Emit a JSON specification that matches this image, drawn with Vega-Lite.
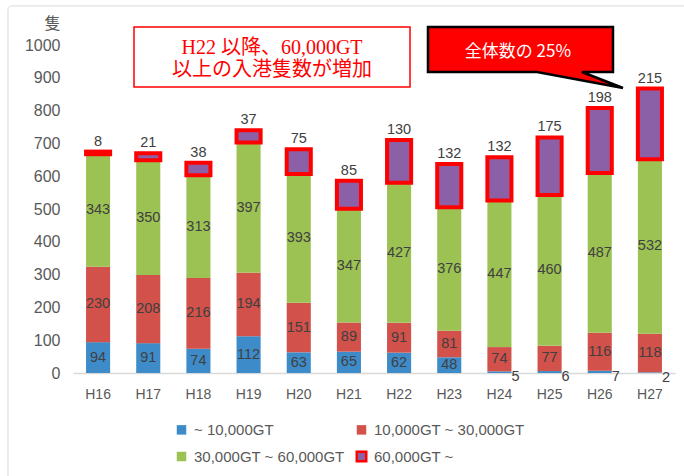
{
  "$schema": "https://vega.github.io/schema/vega-lite/v6.json",
  "width": 602,
  "height": 328,
  "autosize": {"type": "none"},
  "padding": {"left": 73, "top": 45, "right": 9, "bottom": 103},
  "background": "white",
  "config": {"view": {"stroke": null}, "font": "Liberation Sans",
             "axisY": {"labelOverlap": false, "tickCount": 10, "values": [0, 100, 200, 300, 400, 500, 600, 700, 800, 900, 1000], "format": "d", "domain": false, "ticks": false, "labelFontSize": 16, "labelColor": "#595959", "labelPadding": 13, "gridColor": "#D9D9D9", "titleAngle": 0, "titleX": -21, "titleY": -22, "titleAlign": "center", "titleBaseline": "middle", "titleFont": "Noto Sans CJK JP", "titleFontSize": 16, "titleFontWeight": "normal", "titleColor": "#595959"}},
  "data": {"values": [
    {"year": "H16", "cat": "~ 10,000GT", "k": 1, "n": 94},
    {"year": "H16", "cat": "10,000GT ~ 30,000GT", "k": 2, "n": 230},
    {"year": "H16", "cat": "30,000GT ~ 60,000GT", "k": 3, "n": 343},
    {"year": "H16", "cat": "60,000GT ~", "k": 4, "n": 8},
    {"year": "H17", "cat": "~ 10,000GT", "k": 1, "n": 91},
    {"year": "H17", "cat": "10,000GT ~ 30,000GT", "k": 2, "n": 208},
    {"year": "H17", "cat": "30,000GT ~ 60,000GT", "k": 3, "n": 350},
    {"year": "H17", "cat": "60,000GT ~", "k": 4, "n": 21},
    {"year": "H18", "cat": "~ 10,000GT", "k": 1, "n": 74},
    {"year": "H18", "cat": "10,000GT ~ 30,000GT", "k": 2, "n": 216},
    {"year": "H18", "cat": "30,000GT ~ 60,000GT", "k": 3, "n": 313},
    {"year": "H18", "cat": "60,000GT ~", "k": 4, "n": 38},
    {"year": "H19", "cat": "~ 10,000GT", "k": 1, "n": 112},
    {"year": "H19", "cat": "10,000GT ~ 30,000GT", "k": 2, "n": 194},
    {"year": "H19", "cat": "30,000GT ~ 60,000GT", "k": 3, "n": 397},
    {"year": "H19", "cat": "60,000GT ~", "k": 4, "n": 37},
    {"year": "H20", "cat": "~ 10,000GT", "k": 1, "n": 63},
    {"year": "H20", "cat": "10,000GT ~ 30,000GT", "k": 2, "n": 151},
    {"year": "H20", "cat": "30,000GT ~ 60,000GT", "k": 3, "n": 393},
    {"year": "H20", "cat": "60,000GT ~", "k": 4, "n": 75},
    {"year": "H21", "cat": "~ 10,000GT", "k": 1, "n": 65},
    {"year": "H21", "cat": "10,000GT ~ 30,000GT", "k": 2, "n": 89},
    {"year": "H21", "cat": "30,000GT ~ 60,000GT", "k": 3, "n": 347},
    {"year": "H21", "cat": "60,000GT ~", "k": 4, "n": 85},
    {"year": "H22", "cat": "~ 10,000GT", "k": 1, "n": 62},
    {"year": "H22", "cat": "10,000GT ~ 30,000GT", "k": 2, "n": 91},
    {"year": "H22", "cat": "30,000GT ~ 60,000GT", "k": 3, "n": 427},
    {"year": "H22", "cat": "60,000GT ~", "k": 4, "n": 130},
    {"year": "H23", "cat": "~ 10,000GT", "k": 1, "n": 48},
    {"year": "H23", "cat": "10,000GT ~ 30,000GT", "k": 2, "n": 81},
    {"year": "H23", "cat": "30,000GT ~ 60,000GT", "k": 3, "n": 376},
    {"year": "H23", "cat": "60,000GT ~", "k": 4, "n": 132},
    {"year": "H24", "cat": "~ 10,000GT", "k": 1, "n": 5},
    {"year": "H24", "cat": "10,000GT ~ 30,000GT", "k": 2, "n": 74},
    {"year": "H24", "cat": "30,000GT ~ 60,000GT", "k": 3, "n": 447},
    {"year": "H24", "cat": "60,000GT ~", "k": 4, "n": 132},
    {"year": "H25", "cat": "~ 10,000GT", "k": 1, "n": 6},
    {"year": "H25", "cat": "10,000GT ~ 30,000GT", "k": 2, "n": 77},
    {"year": "H25", "cat": "30,000GT ~ 60,000GT", "k": 3, "n": 460},
    {"year": "H25", "cat": "60,000GT ~", "k": 4, "n": 175},
    {"year": "H26", "cat": "~ 10,000GT", "k": 1, "n": 7},
    {"year": "H26", "cat": "10,000GT ~ 30,000GT", "k": 2, "n": 116},
    {"year": "H26", "cat": "30,000GT ~ 60,000GT", "k": 3, "n": 487},
    {"year": "H26", "cat": "60,000GT ~", "k": 4, "n": 198},
    {"year": "H27", "cat": "~ 10,000GT", "k": 1, "n": 2},
    {"year": "H27", "cat": "10,000GT ~ 30,000GT", "k": 2, "n": 118},
    {"year": "H27", "cat": "30,000GT ~ 60,000GT", "k": 3, "n": 532},
    {"year": "H27", "cat": "60,000GT ~", "k": 4, "n": 215}
  ]},
  "resolve": {"scale": {"x": "independent", "y": "independent"}},
  "layer": [
    {
      "data": {"values": [{}]},
      "mark": {"type": "rect", "fill": null, "stroke": "#D9D9D9", "strokeWidth": 1, "cornerRadius": 4},
      "encoding": {
        "x": {"datum": -1.296, "type": "quantitative", "scale": {"domain": [0, 12], "nice": false, "zero": false}, "axis": null},
        "x2": {"datum": 13},
        "y": {"datum": 1119, "type": "quantitative", "scale": {"domain": [0, 1000], "nice": false}, "axis": null},
        "y2": {"datum": -500}
      }
    },
    {
      "transform": [
        {"stack": "n", "groupby": ["year"], "sort": [{"field": "k", "order": "ascending"}], "as": ["y0", "y1"]},
        {"calculate": "(datum.y0 + datum.y1) / 2", "as": "mid"}
      ],
      "encoding": {
        "x": {"field": "year", "type": "nominal", "sort": null,
              "scale": {"paddingInner": 0.52, "paddingOuter": 0.26},
              "axis": {"title": null, "labelFontSize": 14, "labelColor": "#595959", "labelPadding": 14, "ticks": false, "labelAngle": 0, "domainColor": "#D9D9D9", "domainWidth": 1.5}}
      },
      "layer": [
        {
          "mark": {"type": "bar", "strokeWidth": 4},
          "encoding": {
            "y": {"field": "y0", "type": "quantitative",
                  "scale": {"domain": [0, 1000], "nice": false},
                  "axis": {"title": "隻"}},
            "y2": {"field": "y1"},
            "fill": {"field": "cat", "type": "nominal",
                     "scale": {"domain": ["~ 10,000GT", "10,000GT ~ 30,000GT", "30,000GT ~ 60,000GT", "60,000GT ~"], "range": ["#3D8BC8", "#D2514A", "#9DC254", "#8C60A6"]},
                     "legend": {"title": null, "orient": "none", "legendX": 101, "legendY": 377, "direction": "horizontal", "columns": 2, "gridAlign": "all", "columnPadding": 6, "rowPadding": 6, "symbolType": "square", "symbolSize": 90, "symbolStrokeWidth": 2.5, "labelFontSize": 15, "labelColor": "#595959", "labelOffset": 5, "labelLimit": 300}},
            "stroke": {"field": "cat", "type": "nominal",
                       "scale": {"domain": ["~ 10,000GT", "10,000GT ~ 30,000GT", "30,000GT ~ 60,000GT", "60,000GT ~"], "range": ["transparent", "transparent", "transparent", "#FF0000"]},
                       "legend": {"title": null, "orient": "none", "legendX": 101, "legendY": 377, "direction": "horizontal", "columns": 2, "gridAlign": "all", "columnPadding": 6, "rowPadding": 6, "symbolType": "square", "symbolSize": 90, "symbolStrokeWidth": 2.5, "labelFontSize": 15, "labelColor": "#595959", "labelOffset": 5, "labelLimit": 300}},
            "order": {"field": "k"}
          }
        },
        {
          "transform": [{"filter": "datum.k < 4 && datum.n >= 10"}],
          "mark": {"type": "text", "fontSize": 14.5, "color": "#404040", "baseline": "middle", "align": "center"},
          "encoding": {
            "y": {"field": "mid", "type": "quantitative", "axis": {"title": "隻"}},
            "text": {"field": "n", "type": "quantitative"}
          }
        },
        {
          "transform": [{"filter": "datum.k === 1 && datum.n < 10"}],
          "mark": {"type": "text", "fontSize": 14.5, "color": "#404040", "baseline": "middle", "align": "center", "dx": 16, "dy": 5},
          "encoding": {
            "y": {"field": "mid", "type": "quantitative", "axis": {"title": "隻"}},
            "text": {"field": "n", "type": "quantitative"}
          }
        },
        {
          "transform": [{"filter": "datum.k === 4"}],
          "mark": {"type": "text", "fontSize": 14.5, "color": "#404040", "baseline": "bottom", "align": "center", "dy": -3},
          "encoding": {
            "y": {"field": "y1", "type": "quantitative", "axis": {"title": "隻"}},
            "text": {"field": "n", "type": "quantitative"}
          }
        }
      ]
    },
    {
      "data": {"values": [{}]},
      "mark": {"type": "rect", "fill": "white", "stroke": "#FF0000", "strokeWidth": 1.5},
      "encoding": {
        "x": {"datum": 1.216, "type": "quantitative", "scale": {"domain": [0, 12], "nice": false, "zero": false}, "axis": null},
        "x2": {"datum": 6.718},
        "y": {"datum": 1054.9, "type": "quantitative", "scale": {"domain": [0, 1000], "nice": false}, "axis": null},
        "y2": {"datum": 871.9}
      }
    },
    {
      "data": {"values": [{}]},
      "mark": {"type": "text", "text": "H22 以降、60,000GT", "font": "Liberation Serif, Noto Sans CJK JP", "fontSize": 20, "color": "#FF0000", "align": "center", "baseline": "middle"},
      "encoding": {
        "x": {"datum": 3.967, "type": "quantitative", "scale": {"domain": [0, 12], "nice": false, "zero": false}, "axis": null},
        "y": {"datum": 991, "type": "quantitative", "scale": {"domain": [0, 1000], "nice": false}, "axis": null}
      }
    },
    {
      "data": {"values": [{}]},
      "mark": {"type": "text", "text": "以上の入港隻数が増加", "font": "Liberation Serif, Noto Sans CJK JP", "fontSize": 20, "color": "#FF0000", "align": "center", "baseline": "middle"},
      "encoding": {
        "x": {"datum": 3.967, "type": "quantitative", "scale": {"domain": [0, 12], "nice": false, "zero": false}, "axis": null},
        "y": {"datum": 924, "type": "quantitative", "scale": {"domain": [0, 1000], "nice": false}, "axis": null}
      }
    },
    {
      "data": {"values": [{}]},
      "mark": {"type": "point", "shape": "M -0.925 -0.225 L 0.925 -0.225 L 0.925 0.225 L 0.615 0.225 L 1.025 0.385 L 0.165 0.225 L -0.925 0.225 Z", "size": 40000, "filled": true, "fill": "#FF0000", "stroke": "#000000", "strokeWidth": 2.5, "opacity": 1, "fillOpacity": 1, "strokeOpacity": 1},
      "encoding": {
        "x": {"datum": 8.92, "type": "quantitative", "scale": {"domain": [0, 12], "nice": false, "zero": false}, "axis": null},
        "y": {"datum": 986.3, "type": "quantitative", "scale": {"domain": [0, 1000], "nice": false}, "axis": null}
      }
    },
    {
      "data": {"values": [{}]},
      "mark": {"type": "text", "text": "全体数の 25%", "font": "Noto Sans CJK JP", "fontSize": 17, "color": "#FFFFFF", "align": "center", "baseline": "middle"},
      "encoding": {
        "x": {"datum": 8.87, "type": "quantitative", "scale": {"domain": [0, 12], "nice": false, "zero": false}, "axis": null},
        "y": {"datum": 978.7, "type": "quantitative", "scale": {"domain": [0, 1000], "nice": false}, "axis": null}
      }
    }
  ]
}
